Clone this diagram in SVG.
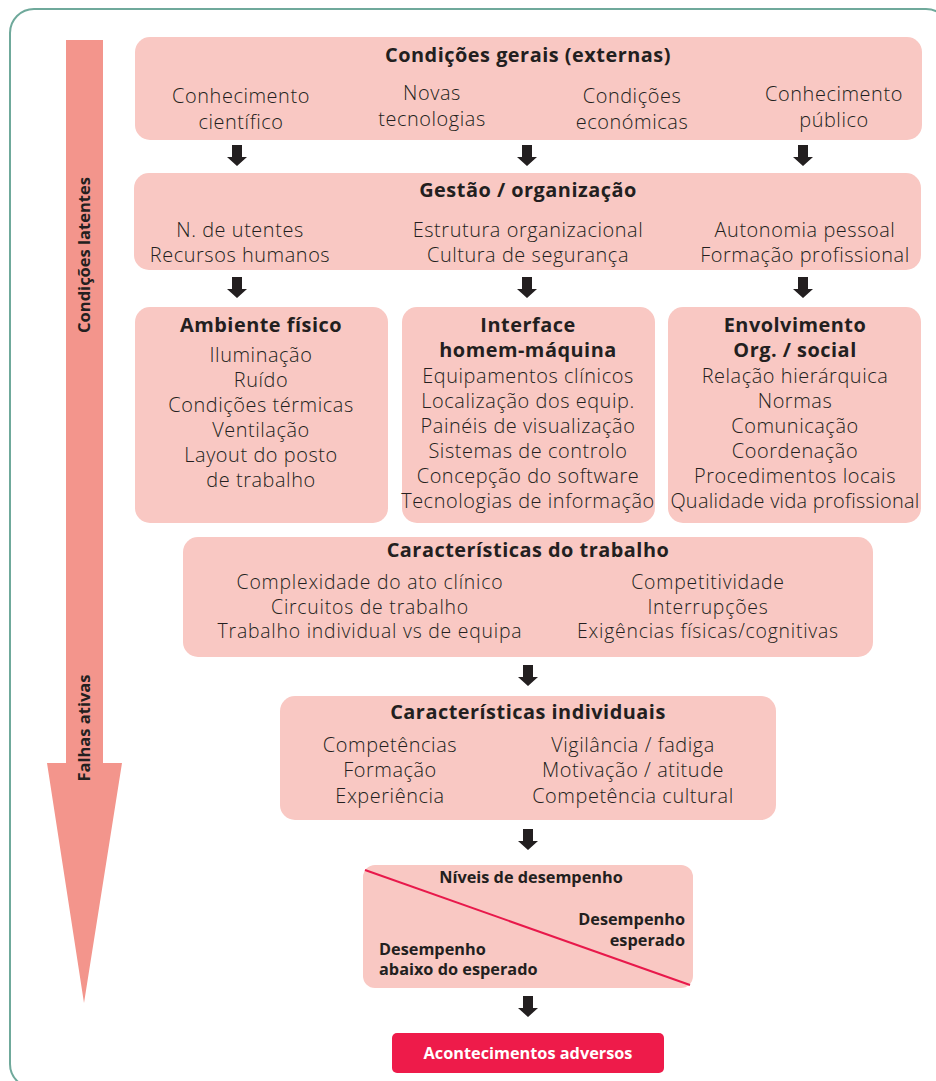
<svg xmlns="http://www.w3.org/2000/svg" width="936" height="1081" viewBox="0 0 936 1081">
  <defs>
    <style>
      .box { fill: #f9c8c3; }
      .t { font-family: "Open Sans", "Liberation Sans", sans-serif; font-size: 19.9px; font-weight: 300; letter-spacing: 0.57px; fill: #231f20; text-anchor: middle; }
      .t2 { font-size: 19.4px; letter-spacing: 0.78px; }
      .h { font-family: "Open Sans", "Liberation Sans", sans-serif; font-size: 19.9px; font-weight: 700; letter-spacing: 0.5px; fill: #231f20; text-anchor: middle; }
      .s { font-family: "Open Sans", "Liberation Sans", sans-serif; font-size: 16.3px; font-weight: 700; fill: #231f20; }
      .v { font-family: "Open Sans", "Liberation Sans", sans-serif; font-size: 16.5px; font-weight: 700; fill: #231f20; text-anchor: middle; }
    </style>
    <!-- small block arrow, origin at top centre of the shaft -->
    <path id="down" d="M-5,0 H5 V12 H10 L0,21 L-10,12 H-5 Z" fill="#231f20"/>
  </defs>

  <rect width="936" height="1081" fill="#ffffff"/>

  <!-- outer frame -->
  <rect x="10" y="9" width="940" height="1079" rx="24" fill="none" stroke="#6fa99b" stroke-width="2"/>

  <!-- big side arrow -->
  <g id="side-arrow">
    <path d="M66,40 H103 V763 H122 L84,1003 L47,763 H66 Z" fill="#f3958c"/>
    <text class="v" transform="translate(90,255) rotate(-90)">Condições latentes</text>
    <text class="v" transform="translate(90,728) rotate(-90)">Falhas ativas</text>
  </g>

  <g id="condicoes-gerais">
    <rect class="box" x="135" y="37" width="787" height="103" rx="15"/>
    <text class="h" x="528" y="62">Condições gerais (externas)</text>
    <text class="t" x="241" y="103">Conhecimento</text>
    <text class="t" x="241" y="129">científico</text>
    <text class="t" x="432" y="100">Novas</text>
    <text class="t" x="432" y="126">tecnologias</text>
    <text class="t" x="632" y="103">Condições</text>
    <text class="t" x="632" y="129">económicas</text>
    <text class="t" x="834" y="101">Conhecimento</text>
    <text class="t" x="834" y="127">público</text>
  </g>

  <g id="gestao">
    <rect class="box" x="134" y="173" width="787" height="97" rx="15"/>
    <text class="h" x="528" y="197">Gestão / organização</text>
    <text class="t" x="240" y="237">N. de utentes</text>
    <text class="t" x="240" y="262">Recursos humanos</text>
    <text class="t" x="528" y="237">Estrutura organizacional</text>
    <text class="t" x="528" y="262">Cultura de segurança</text>
    <text class="t" x="805" y="237">Autonomia pessoal</text>
    <text class="t" x="805" y="262">Formação profissional</text>
  </g>

  <g id="ambiente-fisico">
    <rect class="box" x="135" y="307" width="253" height="216" rx="15"/>
    <text class="h" x="261" y="332">Ambiente físico</text>
    <text class="t" x="261" y="362">Iluminação</text>
    <text class="t" x="261" y="387">Ruído</text>
    <text class="t" x="261" y="412">Condições térmicas</text>
    <text class="t" x="261" y="437">Ventilação</text>
    <text class="t" x="261" y="462">Layout do posto</text>
    <text class="t" x="261" y="487">de trabalho</text>
  </g>

  <g id="interface">
    <rect class="box" x="402" y="307" width="253" height="216" rx="15"/>
    <text class="h" x="528" y="332">Interface</text>
    <text class="h" x="528" y="357">homem-máquina</text>
    <text class="t" x="528" y="383">Equipamentos clínicos</text>
    <text class="t" x="528" y="408">Localização dos equip.</text>
    <text class="t" x="528" y="433">Painéis de visualização</text>
    <text class="t" x="528" y="458">Sistemas de controlo</text>
    <text class="t" x="528" y="483">Concepção do software</text>
    <text class="t" x="528" y="508">Tecnologias de informação</text>
  </g>

  <g id="envolvimento">
    <rect class="box" x="668" y="307" width="253" height="216" rx="15"/>
    <text class="h" x="795" y="332">Envolvimento</text>
    <text class="h" x="795" y="357">Org. / social</text>
    <text class="t" x="795" y="383">Relação hierárquica</text>
    <text class="t" x="795" y="408">Normas</text>
    <text class="t" x="795" y="433">Comunicação</text>
    <text class="t" x="795" y="458">Coordenação</text>
    <text class="t" x="795" y="483">Procedimentos locais</text>
    <text class="t" x="795" y="508" style="letter-spacing:0.3px">Qualidade vida profissional</text>
  </g>

  <g id="caracteristicas-trabalho">
    <rect class="box" x="183" y="537" width="690" height="120" rx="15"/>
    <text class="h" x="528" y="557">Características do trabalho</text>
    <text class="t t2" x="370" y="589">Complexidade do ato clínico</text>
    <text class="t t2" x="370" y="613.5">Circuitos de trabalho</text>
    <text class="t t2" x="370" y="638">Trabalho individual vs de equipa</text>
    <text class="t t2" x="708" y="589">Competitividade</text>
    <text class="t t2" x="708" y="613.5">Interrupções</text>
    <text class="t t2" x="708" y="638">Exigências físicas/cognitivas</text>
  </g>

  <g id="caracteristicas-individuais">
    <rect class="box" x="280" y="696" width="496" height="124" rx="15"/>
    <text class="h" x="528" y="719">Características individuais</text>
    <text class="t" x="390" y="752">Competências</text>
    <text class="t" x="390" y="777">Formação</text>
    <text class="t" x="390" y="803">Experiência</text>
    <text class="t" x="633" y="752">Vigilância / fadiga</text>
    <text class="t" x="633" y="777">Motivação / atitude</text>
    <text class="t" x="633" y="803">Competência cultural</text>
  </g>

  <g id="niveis-desempenho">
    <rect class="box" x="363" y="865" width="330" height="123" rx="12"/>
    <line x1="365" y1="870" x2="690" y2="985" stroke="#e8194b" stroke-width="2"/>
    <text class="s" x="531" y="883" text-anchor="middle">Níveis de desempenho</text>
    <text class="s" x="685" y="925" text-anchor="end">Desempenho</text>
    <text class="s" x="685" y="946" text-anchor="end">esperado</text>
    <text class="s" x="379" y="955">Desempenho</text>
    <text class="s" x="379" y="975">abaixo do esperado</text>
  </g>

  <g id="acontecimentos-adversos">
    <rect x="392" y="1033" width="272" height="40" rx="5" fill="#ee1b4a"/>
    <text class="s" x="528" y="1059" text-anchor="middle" style="fill:#ffffff">Acontecimentos adversos</text>
  </g>

  <g id="connectors">
    <use href="#down" x="237" y="145"/>
    <use href="#down" x="527" y="145"/>
    <use href="#down" x="803" y="145"/>
    <use href="#down" x="237" y="277"/>
    <use href="#down" x="527" y="277"/>
    <use href="#down" x="803" y="277"/>
    <use href="#down" x="528" y="665"/>
    <use href="#down" x="528" y="829"/>
    <use href="#down" x="528" y="996"/>
  </g>
</svg>
